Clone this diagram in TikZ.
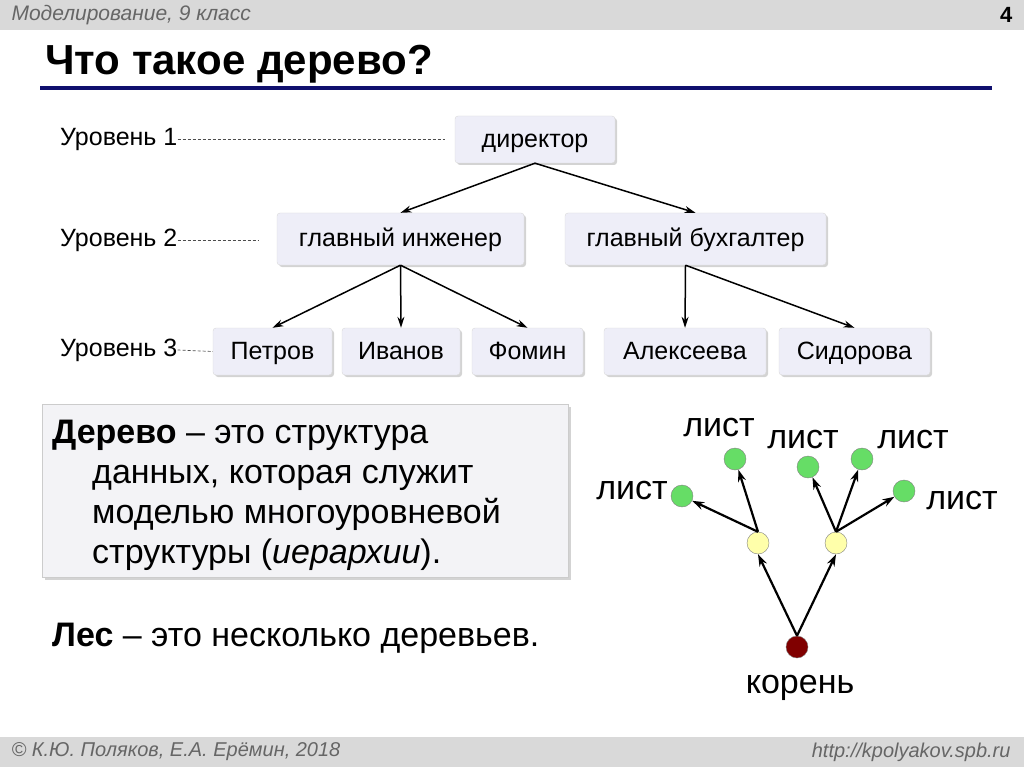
\documentclass[tikz,border=0pt]{standalone}
\usepackage{fontspec}
\setmainfont{Liberation Sans}
\usetikzlibrary{arrows.meta,shadows}
\definecolor{boxfill}{HTML}{EEEEF8}
\definecolor{navy}{HTML}{10106E}
\definecolor{leaf}{HTML}{66DD66}
\definecolor{mid}{HTML}{FFFFAA}
\definecolor{rootc}{HTML}{800000}
\tikzset{
  bx/.style={draw=white!85!black,fill=boxfill,rounded corners=3pt,drop shadow={opacity=0.35,shadow xshift=2pt,shadow yshift=-2pt},font=\fontsize{25}{25}\selectfont,inner sep=0pt,text height=19pt,text depth=3pt},
  lvl/.style={anchor=west,font=\fontsize{25}{25}\selectfont,inner sep=0pt},
  dl/.style={densely dashed,gray!60!black,line width=0.7pt},
  ed/.style={-{Stealth[length=11pt,width=7pt]},line width=1.5pt},
  dot/.style={circle,draw=gray,minimum size=22pt,inner sep=0pt},
  tl/.style={font=\fontsize{34}{34}\selectfont,inner sep=0pt},
  te/.style={-{Stealth[length=12pt,width=8pt]},line width=2.2pt},
}
\begin{document}
\begin{tikzpicture}[x=1pt,y=-1pt]
\useasboundingbox (0,0) rectangle (1024,767);
\fill[gray!30] (0,0) rectangle (1024,30);
\node[anchor=west,font=\itshape\fontsize{21}{21}\selectfont,text=gray!80!black] (hd) at (8,15) {Моделирование, 9 класс};
\node[anchor=east,font=\bfseries\fontsize{22}{22}\selectfont] (pg) at (1016,15) {4};
\node[anchor=west,font=\bfseries\fontsize{42}{42}\selectfont,inner sep=0pt] (ttl) at (45,64) {Что такое дерево?};
\fill[navy] (40,86) rectangle (992,90);
% boxes
\node[bx,minimum width=160pt,minimum height=47pt] (dir) at (535,139.5) {директор};
\node[bx,minimum width=247pt,minimum height=52pt] (eng) at (400.5,239) {главный инженер};
\node[bx,minimum width=261pt,minimum height=52pt] (buh) at (695.5,239) {главный бухгалтер};
\node[bx,minimum width=119pt,minimum height=47pt] (p1) at (272.5,351.5) {Петров};
\node[bx,minimum width=118pt,minimum height=47pt] (p2) at (401,351.5) {Иванов};
\node[bx,minimum width=111pt,minimum height=47pt] (p3) at (527.5,351.5) {Фомин};
\node[bx,minimum width=162pt,minimum height=47pt] (p4) at (685,351.5) {Алексеева};
\node[bx,minimum width=151pt,minimum height=47pt] (p5) at (854.5,351.5) {Сидорова};
\node[lvl] (l1) at (60,139) {Уровень 1};
\node[lvl] (l2) at (60,240) {Уровень 2};
\node[lvl] (l3) at (60,350) {Уровень 3};
\draw[dl] (l1.east) -- (445,139);
\draw[dl] (l2.east) -- (258,240);
\draw[dl] (l3.east) -- (p1.west);
\draw[ed] (dir.south) -- (eng.north);
\draw[ed] (dir.south) -- (buh.north);
\draw[ed] (eng.south) -- (p1.north);
\draw[ed] (eng.south) -- (p2.north);
\draw[ed] (eng.south) -- (p3.north);
\draw[ed] (buh.south) ++(-10,0) coordinate (bs) -- (p4.north);
\draw[ed] (bs) -- (p5.north);
% definition
\node[draw=white!80!black,fill=boxfill!80!gray!30,minimum width=526pt,minimum height=173pt,drop shadow={opacity=0.35,shadow xshift=3pt,shadow yshift=-3pt},inner sep=0pt] (defb) at (305,490.5) {};
\node[anchor=north west,align=left,font=\fontsize{34}{40}\selectfont,inner sep=0pt] (deft) at (52,420) {\textbf{Дерево} – это структура\\\hspace*{40pt}данных, которая служит\\\hspace*{40pt}моделью многоуровневой\\\hspace*{40pt}структуры (\textit{иерархии}).};
\node[anchor=west,font=\fontsize{34}{34}\selectfont,inner sep=0pt] (les) at (52,638) {\textbf{Лес} – это несколько деревьев.};
% tree
\node[dot,fill=rootc] (r) at (797,647) {};
\node[dot,fill=mid] (m1) at (758,543) {};
\node[dot,fill=mid] (m2) at (836,543) {};
\node[dot,fill=leaf] (g1) at (682,496) {};
\node[dot,fill=leaf] (g2) at (735,459) {};
\node[dot,fill=leaf] (g3) at (808,467) {};
\node[dot,fill=leaf] (g4) at (862,459) {};
\node[dot,fill=leaf] (g5) at (904,491) {};
\draw[te] (r.north) -- (m1.south);
\draw[te] (r.north) -- (m2.south);
\draw[te] (m1.north) -- (g1);
\draw[te] (m1.north) -- (g2);
\draw[te] (m2.north) -- (g3);
\draw[te] (m2.north) -- (g4);
\draw[te] (m2.north) -- (g5);
\node[tl] (t1) at (632,491) {лист};
\node[tl] (t2) at (719,428) {лист};
\node[tl] (t3) at (803,440) {лист};
\node[tl] (t4) at (913,440) {лист};
\node[tl] (t5) at (962,501) {лист};
\node[tl] (t6) at (800,688) {корень};
% footer
\fill[gray!30] (0,737) rectangle (1024,767);
\node[anchor=west,font=\itshape\fontsize{20}{20}\selectfont,text=gray!80!black] (ft) at (8,752) {© К.Ю. Поляков, Е.А. Ерёмин, 2018};
\node[anchor=east,font=\itshape\fontsize{20}{20}\selectfont,text=gray!80!black] (url) at (1014,752) {http://kpolyakov.spb.ru};
\end{tikzpicture}
\end{document}
